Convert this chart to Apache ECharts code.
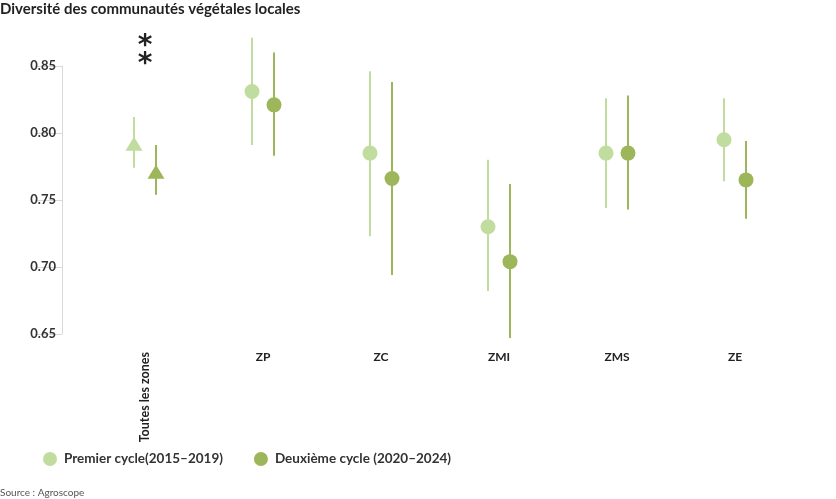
<!DOCTYPE html>
<html>
<head>
<meta charset="utf-8">
<script src="https://cdn.jsdelivr.net/npm/echarts@6/dist/echarts.min.js"></script>
<style>
    html, body { margin: 0; padding: 0; background: #fff; }
    #chart { width: 836px; height: 499px; }
</style>
</head>
<body>
<div id="chart"></div>
<script>
// zones
var categories = ['Toutes les zones', 'ZP', 'ZC', 'ZMI', 'ZMS', 'ZE'];
var seriesNames = ['Premier cycle(2015–2019)', 'Deuxième cycle (2020–2024)'];

// premier cycle : moyenne, borne basse, borne haute
var firstMean = [0.792, 0.831, 0.785, 0.730, 0.785, 0.795];
var firstLow  = [0.774, 0.791, 0.723, 0.682, 0.744, 0.764];
var firstHigh = [0.812, 0.871, 0.846, 0.780, 0.826, 0.826];

// deuxieme cycle
var secondMean = [0.771, 0.821, 0.766, 0.704, 0.785, 0.765];
var secondLow  = [0.754, 0.783, 0.694, 0.647, 0.743, 0.736];
var secondHigh = [0.791, 0.860, 0.838, 0.762, 0.828, 0.794];

// significativite (asterisques)
var signif = ['*\n*', '', '', '', '', ''];
var signifPos = [0.858, null, null, null, null, null];

var lightGreen = '#c1dc9f';
var darkGreen = '#9db65a';
var fontName = 'Lato';

var chart = echarts.init(document.getElementById('chart'));

function pointData(means) {
    var out = [];
    for (var i = 0; i < means.length; i++) {
        var item = { value: [i, means[i]] };
        // "Toutes les zones" est marque par un triangle
        if (i == 0) {
            item.symbol = 'triangle';
            item.symbolSize = [17, 14];
        }
        out.push(item);
    }
    return out;
}

function errorData(low, high) {
    var out = [];
    for (var i = 0; i < low.length; i++) {
        out.push([i, low[i], high[i]]);
    }
    return out;
}

function errorRender(offset, color) {
    return function (params, api) {
        var p1 = api.coord([api.value(0), api.value(1)]);
        var p2 = api.coord([api.value(0), api.value(2)]);
        return {
            type: 'line',
            shape: { x1: p1[0] + offset, y1: p1[1], x2: p2[0] + offset, y2: p2[1] },
            style: { stroke: color, lineWidth: 2 }
        };
    };
}

var sigData = [];
for (var i = 0; i < signif.length; i++) {
    if (signif[i] != '') sigData.push([i, signifPos[i], signif[i]]);
}

var option = {
    backgroundColor: '#fff',
    animation: false,
    textStyle: { fontFamily: fontName },
    title: {
        text: 'Diversité des communautés végétales locales',
        left: 0,
        top: 2,
        padding: 0,
        textStyle: { fontFamily: fontName, fontSize: 15, fontWeight: 'bold', color: '#222' }
    },
    legend: {
        left: 43,
        top: 452,
        padding: 0,
        icon: 'circle',
        itemWidth: 14,
        itemHeight: 14,
        itemGap: 31,
        data: seriesNames,
        textStyle: { fontFamily: fontName, fontSize: 13.5, fontWeight: 'bold', color: '#333', padding: [0, 0, 0, 2] }
    },
    graphic: [{
        type: 'text',
        left: 0,
        top: 488,
        style: { text: 'Source : Agroscope', fontFamily: fontName, fontSize: 10, fill: '#555' }
    }],
    grid: { left: 86, right: 42, top: 66, bottom: 165 },
    xAxis: [{
        type: 'category',
        data: categories,
        axisLine: { show: false },
        axisTick: { show: false },
        axisLabel: {
            margin: 18,
            rotate: 90,
            fontFamily: fontName, fontSize: 12.5, fontWeight: 'bold', color: '#222',
            formatter: function (v, idx) { return idx == 0 ? v : ''; }
        }
    }, {
        type: 'category',
        data: categories,
        position: 'bottom',
        axisLine: { show: false },
        axisTick: { show: false },
        axisLabel: {
            margin: 17,
            fontFamily: fontName, fontSize: 12, fontWeight: 'bold', color: '#222',
            formatter: function (v, idx) { return idx == 0 ? '' : v; }
        }
    }],
    yAxis: {
        type: 'value',
        min: 0.65,
        max: 0.85,
        interval: 0.05,
        offset: 24,
        axisLine: { show: true, lineStyle: { color: '#d9d9d9', width: 1 } },
        axisTick: { show: true, length: 27, lineStyle: { color: '#d9d9d9' } },
        splitLine: { show: false },
        axisLabel: {
            margin: 6,
            fontFamily: fontName, fontSize: 13, fontWeight: 'bold', color: '#333',
            formatter: function (v) { return v.toFixed(2); }
        }
    },
    series: [{
        type: 'custom',
        name: 'err1',
        clip: false,
        z: 1,
        renderItem: errorRender(-11, lightGreen),
        data: errorData(firstLow, firstHigh)
    }, {
        type: 'custom',
        name: 'err2',
        clip: false,
        z: 1,
        renderItem: errorRender(11, darkGreen),
        data: errorData(secondLow, secondHigh)
    }, {
        type: 'scatter',
        name: seriesNames[0],
        symbol: 'circle',
        symbolSize: 15,
        symbolOffset: [-11, 0],
        itemStyle: { color: lightGreen, opacity: 1 },
        z: 3,
        data: pointData(firstMean)
    }, {
        type: 'scatter',
        name: seriesNames[1],
        symbol: 'circle',
        symbolSize: 15,
        symbolOffset: [11, 0],
        itemStyle: { color: darkGreen, opacity: 1 },
        z: 3,
        data: pointData(secondMean)
    }, {
        type: 'custom',
        name: 'signif',
        clip: false,
        renderItem: function (params, api) {
            var p = api.coord([api.value(0), api.value(1)]);
            return {
                type: 'text',
                x: p[0],
                y: p[1],
                style: {
                    text: sigData[params.dataIndex][2],
                    fontFamily: 'DejaVu Sans', fontSize: 28, fontWeight: 'bold',
                    fill: '#222', align: 'center', verticalAlign: 'middle', lineHeight: 18
                }
            };
        },
        data: sigData
    }]
};

chart.setOption(option);
</script>
</body>
</html>
